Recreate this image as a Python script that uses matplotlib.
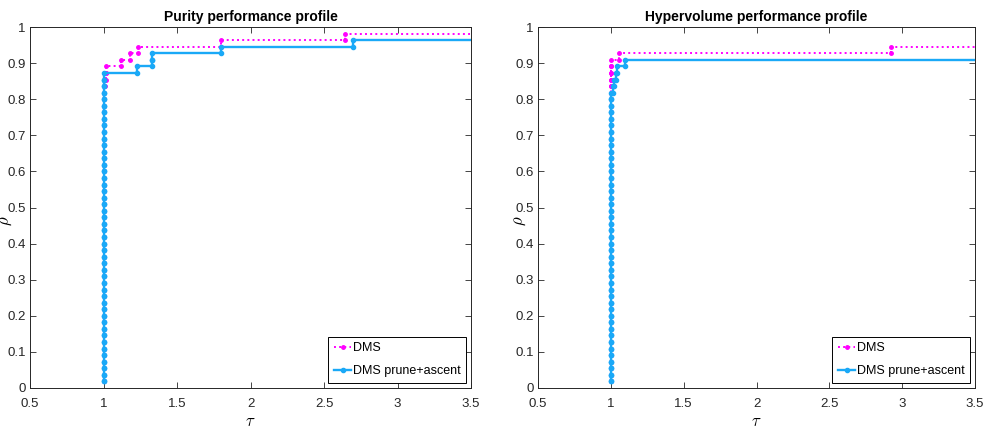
import numpy as np
import matplotlib
matplotlib.use("Agg")
import matplotlib.pyplot as plt

plt.rcParams['font.family'] = ['Liberation Sans', 'DejaVu Sans']
plt.rcParams['mathtext.fontset'] = 'cm'

n_problems = 55
tau_max = 4.0

# performance ratios per problem (finite ones only; remaining problems failed)
purity_dms = [1.0] * 45 + [1.005, 1.01, 1.015, 1.02, 1.12, 1.18, 1.237, 1.80, 2.64]
purity_prune = [1.0] * 48 + [1.226, 1.328, 1.328, 1.80, 2.70]
hv_dms = [1.0] * 50 + [1.055, 2.925]
hv_prune = [1.0] * 45 + [1.015, 1.025, 1.035, 1.043, 1.10]

titles = ["Purity performance profile", "Hypervolume performance profile"]
series_names = ["DMS", "DMS prune+ascent"]
xticks = [0.5, 1, 1.5, 2, 2.5, 3, 3.5]
xticklabels = ["0.5", "1", "1.5", "2", "2.5", "3", "3.5"]
yticks = [0, 0.1, 0.2, 0.3, 0.4, 0.5, 0.6, 0.7, 0.8, 0.9, 1]
yticklabels = ["0", "0.1", "0.2", "0.3", "0.4", "0.5", "0.6", "0.7", "0.8", "0.9", "1"]

pink = '#ff00ff'
blue = '#1aa9f7'
axcol = '#262626'


def stair_vertices(ratios, n, tmax):
    r = np.sort(np.asarray(ratios, dtype=float))
    y = np.arange(1, len(r) + 1) / n
    xs = [r[0]]
    ys = [y[0]]
    for i in range(1, len(r)):
        xs += [r[i], r[i]]
        ys += [y[i - 1], y[i]]
    xs.append(tmax)
    ys.append(y[-1])
    return np.array(xs), np.array(ys)


fig = plt.figure(figsize=(9.88, 4.32), dpi=100)
axes_pos = [[30 / 988, 1 - 388 / 432, 441 / 988, 361 / 432],
            [538 / 988, 1 - 388 / 432, 437 / 988, 361 / 432]]
ylabel_x = [-0.036, -0.024]
data = [(purity_dms, purity_prune), (hv_dms, hv_prune)]

for k in range(2):
    ax = fig.add_axes(axes_pos[k])
    d1, d2 = data[k]
    x1, y1 = stair_vertices(d1, n_problems, tau_max)
    x2, y2 = stair_vertices(d2, n_problems, tau_max)
    ax.plot(x1, y1, linestyle=':', color=pink, lw=1.4, marker='.', ms=5,
            label=series_names[0], zorder=2)
    ax.plot(x2, y2, linestyle='-', color=blue, lw=1.7, marker='.', ms=6,
            label=series_names[1], zorder=3)
    ax.set_xlim(0.5, 3.5)
    ax.set_ylim(0, 1)
    ax.set_xticks(xticks)
    ax.set_xticklabels(xticklabels)
    ax.set_yticks(yticks)
    ax.set_yticklabels(yticklabels)
    ax.tick_params(direction='in', top=True, right=True, length=4,
                   labelsize=9.5, colors=axcol, width=0.6)
    ax.tick_params(axis='x', pad=7)
    ax.tick_params(axis='y', pad=3)
    for s in ax.spines.values():
        s.set_color(axcol)
        s.set_linewidth(0.7)
    ax.set_title(titles[k], fontsize=10, fontweight='bold', pad=4, color='black')
    ax.set_xlabel(r'$\tau$', fontsize=12, labelpad=3)
    ax.set_ylabel(r'$\rho$', fontsize=12)
    ax.yaxis.set_label_coords(ylabel_x[k], 0.462)
    leg = ax.legend(loc='lower right', fontsize=9, fancybox=False,
                    framealpha=1, edgecolor='black', borderpad=0.45,
                    handlelength=1.4, handletextpad=0.1, labelspacing=0.9,
                    borderaxespad=0.4)
    leg.get_frame().set_linewidth(0.7)

fig.savefig('out.png', dpi=100)
